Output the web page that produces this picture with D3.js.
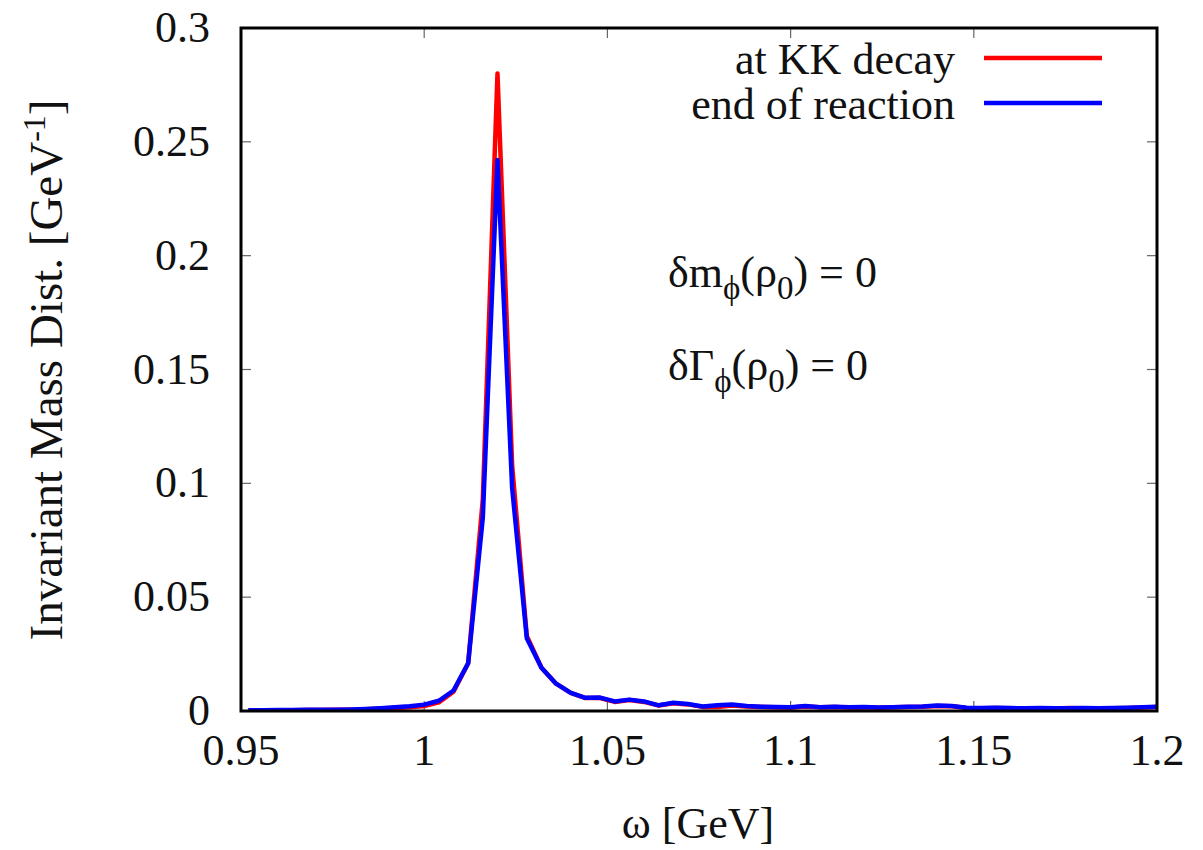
<!DOCTYPE html>
<html>
<head>
<meta charset="utf-8">
<script src="https://cdn.jsdelivr.net/npm/d3@7"></script>
<style>
  body { margin: 0; background: #fff; }
</style>
</head>
<body>
<div id="chart"></div>
<script>
// invariant mass bins (GeV)
var omega = [0.952, 0.956, 0.960, 0.964, 0.968, 0.972, 0.976, 0.980, 0.984, 0.988,
  0.992, 0.996, 1.000, 1.004, 1.008, 1.012, 1.016, 1.020, 1.024, 1.028,
  1.032, 1.036, 1.040, 1.044, 1.048, 1.052, 1.056, 1.060, 1.064, 1.068,
  1.072, 1.076, 1.080, 1.084, 1.088, 1.092, 1.096, 1.100, 1.104, 1.108,
  1.112, 1.116, 1.120, 1.124, 1.128, 1.132, 1.136, 1.140, 1.144, 1.148,
  1.152, 1.156, 1.160, 1.164, 1.168, 1.172, 1.176, 1.180, 1.184, 1.188,
  1.192, 1.196, 1.200];

// distribution at KK decay
var atDecay = [0.0002, 0.0002, 0.0003, 0.0003, 0.0004, 0.0004, 0.0005, 0.0006, 0.0008, 0.0010,
  0.0013, 0.0017, 0.0022, 0.0038, 0.0085, 0.021, 0.093, 0.280, 0.108, 0.033,
  0.019, 0.012, 0.008, 0.0057, 0.0057, 0.0040, 0.0048, 0.0040, 0.0024, 0.0034,
  0.0029, 0.0018, 0.0018, 0.0024, 0.0020, 0.0018, 0.0017, 0.0015, 0.0020, 0.0016,
  0.0018, 0.0015, 0.0017, 0.0014, 0.0016, 0.0018, 0.0019, 0.0022, 0.0021, 0.0013,
  0.0012, 0.0013, 0.0012, 0.0011, 0.0012, 0.0011, 0.0013, 0.0012, 0.0011, 0.0012,
  0.0013, 0.0015, 0.0018];

// distribution at end of reaction
var atEnd = [0.0003, 0.0003, 0.0004, 0.0004, 0.0005, 0.0005, 0.0006, 0.0007, 0.0009, 0.0012,
  0.0016, 0.0021, 0.0028, 0.0045, 0.009, 0.021, 0.085, 0.242, 0.098, 0.032,
  0.019, 0.012, 0.008, 0.0058, 0.0059, 0.0042, 0.0050, 0.0042, 0.0025, 0.0036,
  0.0031, 0.0020, 0.0025, 0.0029, 0.0022, 0.0019, 0.0018, 0.0016, 0.0022, 0.0017,
  0.0019, 0.0016, 0.0018, 0.0015, 0.0017, 0.0019, 0.0020, 0.0024, 0.0022, 0.0014,
  0.0013, 0.0014, 0.0013, 0.0012, 0.0013, 0.0012, 0.0012, 0.0013, 0.0012, 0.0013,
  0.0014, 0.0016, 0.0019];

var xTicks = [0.95, 1, 1.05, 1.1, 1.15, 1.2];
var yTicks = [0, 0.05, 0.1, 0.15, 0.2, 0.25, 0.3];
var seriesNames = ["at KK decay", "end of reaction"];
var seriesColors = ["#ff0000", "#0000ff"];

var width = 1203, height = 850;
var pLeft = 241, pRight = 1157, pTop = 28, pBottom = 711;
var fs = 44;
var serif = "'Liberation Serif', 'DejaVu Serif', serif";

var svg = d3.select("#chart").append("svg")
    .attr("width", width)
    .attr("height", height)
    .attr("font-family", serif)
    .style("font-family", serif);

var x = d3.scaleLinear().domain([0.95, 1.2]).range([pLeft, pRight]);
var y = d3.scaleLinear().domain([0, 0.3]).range([pBottom, pTop]);

// inward ticks on all four sides
var tickLen = 10;
var ticks = svg.append("g").attr("stroke", "#666").attr("stroke-width", 1.2);
xTicks.forEach(function(t) {
    ticks.append("line").attr("x1", x(t)).attr("x2", x(t)).attr("y1", pBottom).attr("y2", pBottom - tickLen);
    ticks.append("line").attr("x1", x(t)).attr("x2", x(t)).attr("y1", pTop).attr("y2", pTop + tickLen);
});
yTicks.forEach(function(t) {
    ticks.append("line").attr("x1", pLeft).attr("x2", pLeft + tickLen).attr("y1", y(t)).attr("y2", y(t));
    ticks.append("line").attr("x1", pRight).attr("x2", pRight - tickLen).attr("y1", y(t)).attr("y2", y(t));
});

// tick labels
svg.append("g").selectAll("text").data(xTicks).enter().append("text")
    .attr("x", function(d) { return x(d); })
    .attr("y", 765)
    .attr("text-anchor", "middle")
    .attr("font-size", fs)
    .attr("fill", "#111")
    .text(function(d) { return d; });

svg.append("g").selectAll("text").data(yTicks).enter().append("text")
    .attr("x", 210)
    .attr("y", function(d) { return y(d) + 14; })
    .attr("text-anchor", "end")
    .attr("font-size", fs)
    .attr("fill", "#111")
    .text(function(d) { return d; });

// lines
var line = d3.line()
    .x(function(d, i) { return x(omega[i]); })
    .y(function(d) { return y(d); });

svg.append("defs").append("clipPath").attr("id", "clip")
  .append("rect").attr("x", pLeft).attr("y", pTop).attr("width", pRight - pLeft).attr("height", pBottom - pTop);

var plot = svg.append("g").attr("clip-path", "url(#clip)");
[atDecay, atEnd].forEach(function(s, k) {
    plot.append("path")
        .datum(s)
        .attr("d", line)
        .attr("fill", "none")
        .attr("stroke", seriesColors[k])
        .attr("stroke-width", 4.5)
        .attr("stroke-linejoin", "round");
});

// frame
svg.append("rect")
    .attr("x", pLeft).attr("y", pTop)
    .attr("width", pRight - pLeft).attr("height", pBottom - pTop)
    .attr("fill", "none")
    .attr("stroke", "#000")
    .attr("stroke-width", 3);

// legend
var legend = svg.append("g");
seriesNames.forEach(function(name, k) {
    var ly = 58 + k * 45;
    legend.append("text")
        .attr("x", 955).attr("y", ly + 16)
        .attr("text-anchor", "end")
        .attr("font-size", fs)
        .attr("fill", "#111")
        .text(name);
    legend.append("line")
        .attr("x1", 984).attr("x2", 1102)
        .attr("y1", ly).attr("y2", ly)
        .attr("stroke", seriesColors[k])
        .attr("stroke-width", 4.5);
});

// annotations
function annotate(sym, yy) {
    var t = svg.append("text").attr("x", 668).attr("y", yy).attr("font-size", fs).attr("fill", "#111");
    t.append("tspan").text(sym);
    t.append("tspan").attr("dy", 12).attr("font-size", 33).text("ϕ");
    t.append("tspan").attr("dy", -12).text("(ρ");
    t.append("tspan").attr("dy", 12).attr("font-size", 33).text("0");
    t.append("tspan").attr("dy", -12).text(") = 0");
}
annotate("δm", 287);
annotate("δΓ", 380);

// axis titles
svg.append("text")
    .attr("x", 698).attr("y", 838)
    .attr("text-anchor", "middle")
    .attr("font-size", fs)
    .attr("fill", "#111")
    .text("ω [GeV]");

var yl = svg.append("text")
    .attr("transform", "translate(62,370) rotate(-90)")
    .attr("text-anchor", "middle")
    .attr("font-size", 47)
    .attr("fill", "#111");
yl.append("tspan").text("Invariant Mass Dist. [GeV");
yl.append("tspan").attr("dy", -17).attr("font-size", 32).text("-1");
yl.append("tspan").attr("dy", 17).text("]");
</script>
</body>
</html>
